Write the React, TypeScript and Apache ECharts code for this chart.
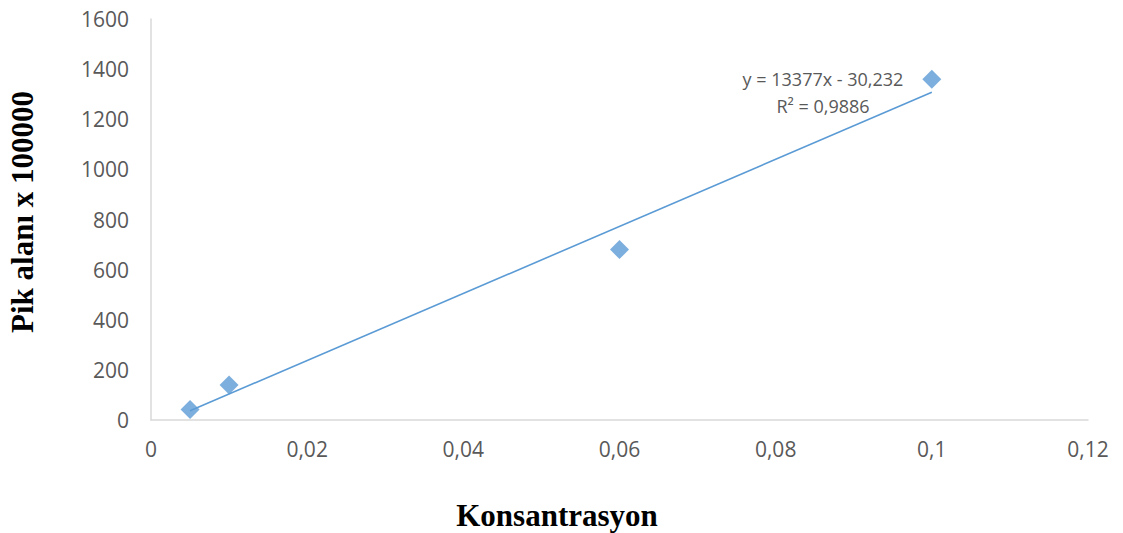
import React, { useEffect, useRef } from "react";
import * as echarts from "echarts";

const concentrations = [0.005, 0.01, 0.06, 0.1];
const peakAreas = [42, 140, 680, 1360];
const trendSlope = 13377;
const trendIntercept = -30.232;
const trendRange = [0.005, 0.1];
const equationText = "y = 13377x - 30,232";
const r2Text = "R² = 0,9886";
const xTitle = "Konsantrasyon";
const yTitle = "Pik alanı x 100000";

export default function App() {
  const ref = useRef<HTMLDivElement>(null);
  useEffect(() => {
    if (!ref.current) return;
    const chart = echarts.init(ref.current, null, { renderer: "svg" });
    const labelColor = "#595959";
    const font = "'Open Sans', 'Noto Sans', sans-serif";
    chart.setOption({
      animation: false,
      grid: { left: 151, top: 19, right: 35, bottom: 113, containLabel: false },
      xAxis: {
        type: "value",
        min: 0,
        max: 0.12,
        interval: 0.02,
        axisLine: { show: true, lineStyle: { color: "#d9d9d9", width: 1.5 } },
        axisTick: { show: false },
        splitLine: { show: false },
        axisLabel: {
          color: labelColor,
          fontFamily: font,
          fontSize: 21,
          margin: 18,
          formatter: (v: number) => {
            const s = String(Math.round(v * 100) / 100);
            return s.replace(".", ",");
          },
        },
      },
      yAxis: {
        type: "value",
        min: 0,
        max: 1600,
        interval: 200,
        axisLine: { show: true, lineStyle: { color: "#d9d9d9", width: 1.5 } },
        axisTick: { show: false },
        splitLine: { show: false },
        axisLabel: {
          color: labelColor,
          fontFamily: font,
          fontSize: 21,
          margin: 22,
          formatter: (v: number) => String(Math.round(v)),
        },
      },
      series: [
        {
          type: "line",
          data: trendRange.map((x) => [x, trendSlope * x + trendIntercept]),
          showSymbol: false,
          symbol: "none",
          lineStyle: { color: "#5b9bd5", width: 1.6 },
          silent: true,
          z: 1,
        },
        {
          type: "scatter",
          data: concentrations.map((x, i) => [x, peakAreas[i]]),
          symbol: "diamond",
          symbolSize: [19, 19],
          itemStyle: { color: "#5b9bd5" },
          z: 2,
        },
      ],
      graphic: [
        {
          type: "text",
          x: 823,
          y: 79,
          style: {
            text: equationText,
            fill: labelColor,
            font: `18px ${font}`,
            textAlign: "center",
            textVerticalAlign: "middle",
          },
        },
        {
          type: "text",
          x: 823,
          y: 106,
          style: {
            text: r2Text,
            fill: labelColor,
            font: `18px ${font}`,
            textAlign: "center",
            textVerticalAlign: "middle",
          },
        },
        {
          type: "text",
          x: 557,
          y: 515,
          style: {
            text: xTitle,
            fill: "#000",
            font: `bold 31px 'Liberation Serif', 'DejaVu Serif', serif`,
            textAlign: "center",
            textVerticalAlign: "middle",
          },
        },
        {
          type: "text",
          x: 22,
          y: 212,
          rotation: Math.PI / 2,
          style: {
            text: yTitle,
            fill: "#000",
            font: `bold 31px 'Liberation Serif', 'DejaVu Serif', serif`,
            textAlign: "center",
            textVerticalAlign: "middle",
          },
        },
      ],
    });
    return () => chart.dispose();
  }, []);
  return (
    <div
      ref={ref}
      style={{ position: "absolute", left: 0, top: 0, width: 1123, height: 533, background: "#fff" }}
    />
  );
}
